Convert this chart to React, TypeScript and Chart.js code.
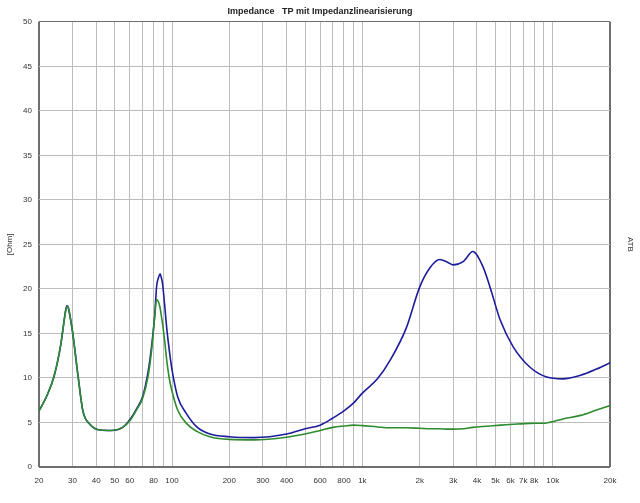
import React, { useEffect, useRef } from "react";
import { Chart, registerables } from "chart.js";

Chart.register(...registerables);

const titleText = "Impedance   TP mit Impedanzlinearisierung";
const yTitle = "[Ohm]";
const rightTitle = "ATB";

const freqs = [
  20, 22, 24, 26, 27, 27.5, 28, 28.5, 29, 30, 32, 34, 37, 42, 48, 55, 60, 65, 70,
  75, 78, 81, 83, 85, 86.5, 88, 89, 91, 94, 97, 100, 107, 119, 135, 158, 200,
  270, 400, 500, 600, 700, 800, 900, 1000, 1200, 1400, 1700, 2000, 2270, 2550,
  2800, 3000, 3400, 3800, 4300, 4700, 5300, 6200, 7600, 9300, 11300, 14000,
  17000, 20000,
];

const blueOhm = [
  6.3, 8.0, 10.2, 13.7, 16.2, 17.4, 18.1, 17.9, 17.1, 15.2, 10.4, 6.3, 4.8,
  4.15, 4.1, 4.45, 5.3, 6.5, 7.9, 10.8, 13.5, 16.9, 20.3, 21.3, 21.7, 21.2,
  20.7, 18.7, 15.4, 12.9, 10.9, 7.9, 6.0, 4.5, 3.7, 3.4, 3.3, 3.7, 4.3, 4.7,
  5.5, 6.3, 7.2, 8.3, 9.9, 12.0, 15.6, 20.2, 22.4, 23.3, 23.0, 22.7, 23.1,
  24.2, 22.5, 20.1, 16.5, 13.5, 11.2, 10.1, 9.9, 10.3, 11.0, 11.7,
];

const greenOhm = [
  6.3, 8.0, 10.2, 13.7, 16.1, 17.3, 18.0, 17.9, 17.2, 15.2, 10.4, 6.3, 4.8,
  4.15, 4.1, 4.45, 5.2, 6.4, 7.7, 10.3, 13.0, 16.8, 18.8, 18.5, 17.9, 16.9,
  16.2, 14.6, 11.8, 9.8, 8.5, 6.4, 4.9, 4.0, 3.4, 3.1, 3.05, 3.35, 3.7, 4.1,
  4.45, 4.6, 4.7, 4.65, 4.5, 4.4, 4.4, 4.35, 4.3, 4.3, 4.25, 4.25, 4.3, 4.45,
  4.55, 4.6, 4.7, 4.8, 4.9, 4.95, 5.4, 5.8, 6.4, 6.9,
];

const gridFreqs = [
  20, 30, 40, 50, 60, 70, 80, 90, 100, 200, 300, 400, 500, 600, 700, 800, 900,
  1000, 2000, 3000, 4000, 5000, 6000, 7000, 8000, 9000, 10000, 20000,
];

const freqLabels: Record<number, string> = {
  20: "20", 30: "30", 40: "40", 50: "50", 60: "60", 80: "80", 100: "100",
  200: "200", 300: "300", 400: "400", 600: "600", 800: "800", 1000: "1k",
  2000: "2k", 3000: "3k", 4000: "4k", 5000: "5k", 6000: "6k", 7000: "7k",
  8000: "8k", 10000: "10k", 20000: "20k",
};

const FONT = "'Liberation Sans', Arial, sans-serif";

export default function App() {
  const ref = useRef<HTMLCanvasElement | null>(null);

  useEffect(() => {
    if (!ref.current) return;
    const chart = new Chart(ref.current, {
      type: "line",
      data: {
        datasets: [
          {
            label: "TP",
            data: freqs.map((f, i) => ({ x: f, y: greenOhm[i] })),
            borderColor: "#2e8b2e",
            borderWidth: 1.6,
            pointRadius: 0,
            cubicInterpolationMode: "monotone",
            fill: false,
          },
          {
            label: "Impedance",
            data: freqs.map((f, i) => ({ x: f, y: blueOhm[i] })),
            borderColor: "#1c1c9c",
            borderWidth: 1.6,
            pointRadius: 0,
            cubicInterpolationMode: "monotone",
            fill: false,
          },
        ],
      },
      options: {
        responsive: true,
        maintainAspectRatio: false,
        animation: false,
        layout: { padding: 0 },
        plugins: {
          legend: { display: false },
          tooltip: { enabled: false },
          title: {
            display: true,
            text: titleText,
            color: "#222",
            font: { family: "'Liberation Sans Narrow', 'Liberation Sans', Arial, sans-serif", size: 9, weight: "bold" },
            padding: { top: 6, bottom: 5 },
          },
        },
        scales: {
          x: {
            type: "logarithmic",
            min: 20,
            max: 20000,
            afterBuildTicks: (scale: any) => {
              scale.ticks = gridFreqs.map((v) => ({ value: v }));
            },
            afterFit: (scale: any) => {
              scale.height = 36;
            },
            ticks: {
              autoSkip: false,
              maxRotation: 0,
              minRotation: 0,
              padding: 9,
              color: "#333",
              font: { family: FONT, size: 8 },
              callback: (v: any) => freqLabels[Number(v)] ?? "",
            },
            grid: {
              drawTicks: false,
              color: (ctx: any) =>
                ctx.tick && (ctx.tick.value === 20 || ctx.tick.value === 20000) ? "#6e6e6e" : "#bcbcbc",
              lineWidth: (ctx: any) =>
                ctx.tick && (ctx.tick.value === 20 || ctx.tick.value === 20000) ? 2 : 1,
            },
            border: { display: false },
          },
          y: {
            type: "linear",
            position: "left",
            min: 0,
            max: 50,
            afterFit: (scale: any) => {
              scale.width = 39;
            },
            ticks: {
              stepSize: 5,
              padding: 7,
              color: "#333",
              font: { family: FONT, size: 8 },
            },
            grid: {
              drawTicks: false,
              color: (ctx: any) =>
                ctx.tick && (ctx.tick.value === 0 || ctx.tick.value === 50) ? "#6e6e6e" : "#bcbcbc",
              lineWidth: (ctx: any) =>
                ctx.tick && ctx.tick.value === 0 ? 2 : 1,
            },
            border: { display: false },
            title: {
              display: true,
              text: yTitle,
              color: "#333",
              font: { family: FONT, size: 8 },
              padding: { top: 5, bottom: 0 },
            },
          },
          y2: {
            type: "linear",
            position: "right",
            min: 0,
            max: 50,
            afterFit: (scale: any) => {
              scale.width = 30;
            },
            ticks: { display: false },
            grid: { display: false, drawTicks: false },
            border: { display: false },
            title: {
              display: true,
              text: rightTitle,
              color: "#333",
              font: { family: FONT, size: 8 },
              padding: { top: 5, bottom: 0 },
            },
          },
        },
      },
    } as any);
    return () => chart.destroy();
  }, []);

  return (
    <div style={{ position: "absolute", left: 0, top: 0, width: 640, height: 503, background: "#fff" }}>
      <canvas ref={ref} />
    </div>
  );
}
